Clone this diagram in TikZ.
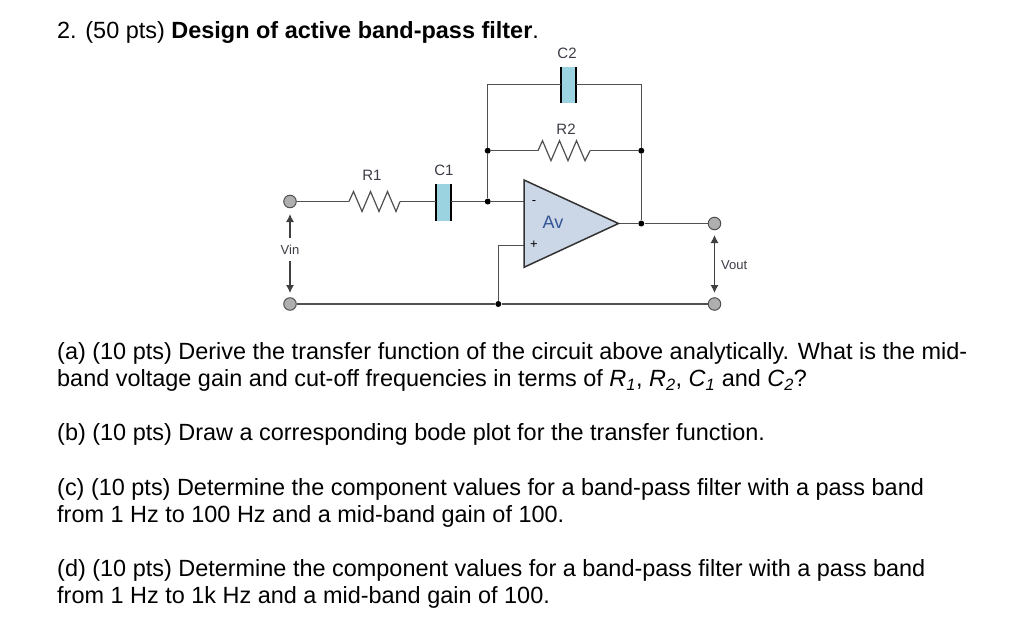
\documentclass[tikz,border=0pt]{standalone}
\usepackage{fontspec}
\setmainfont{Liberation Sans}
\usetikzlibrary{arrows.meta}
\definecolor{wire}{RGB}{80,80,80}
\definecolor{capfill}{RGB}{155,211,224}
\definecolor{ampfill}{RGB}{203,214,230}
\definecolor{lblblue}{RGB}{50,85,150}
\definecolor{lbl}{RGB}{60,60,70}
\definecolor{termfill}{RGB}{175,175,175}
\tikzset{
  wire/.style={draw=wire,line width=1.2pt},
  term/.style={circle,draw=wire,fill=termfill,line width=1pt,inner sep=0pt,minimum size=12.5pt},
  dot/.style={circle,fill=black,inner sep=0pt,minimum size=6pt},
  plate/.style={draw=black,line width=2.8pt},
  capbody/.style={fill=capfill,draw=none},
  lab/.style={font=\fontsize{15}{15}\selectfont,text=lbl,inner sep=0pt},
  smalllab/.style={font=\fontsize{13}{13}\selectfont,text=lbl,inner sep=0pt},
  para/.style={font=\fontsize{23.45}{27}\selectfont,anchor=north west,inner sep=0pt,align=left},
  volt/.style={draw=black!75,line width=1.1pt,-{Latex[length=8pt,width=8pt]}},
}
\begin{document}
\begin{tikzpicture}[x=1pt,y=-1pt]
\useasboundingbox (0,0) rectangle (1024,626);
\fill[white] (0,0) rectangle (1024,626);

% question text
\node[para] (title) at (57,21) {2. (50 pts) \textbf{Design of active band-pass filter}.};
\node[para] (pa) at (57,342.7) {(a) (10 pts) Derive the transfer function of the circuit above analytically. What is the mid-\\band voltage gain and cut-off frequencies in terms of \textit{R\textsubscript{1}}, \textit{R\textsubscript{2}}, \textit{C\textsubscript{1}} and \textit{C\textsubscript{2}}?};
\node[para] (pb) at (57,423) {(b) (10 pts) Draw a corresponding bode plot for the transfer function.};
\node[para] (pc) at (57,478) {(c) (10 pts) Determine the component values for a band-pass filter with a pass band\\from 1 Hz to 100 Hz and a mid-band gain of 100.};
\node[para] (pd) at (57,559) {(d) (10 pts) Determine the component values for a band-pass filter with a pass band\\from 1 Hz to 1k Hz and a mid-band gain of 100.};

% op amp
\coordinate (ampA) at (524,180);
\coordinate (ampB) at (524,267.3);
\coordinate (ampO) at (618.5,223.5);
\fill[ampfill] (ampA) -- (ampO) -- (ampB) -- cycle;

% junctions and terminals
\node[term] (vin1) at (290,201.5) {};
\node[term] (vin2) at (290,304) {};
\node[term] (vout1) at (714.5,223.5) {};
\node[term] (vout2) at (714.5,304) {};
\node[dot] (j1) at (487.7,201.5) {};
\node[dot] (j2) at (487.7,150.7) {};
\node[dot] (j3) at (641.3,150.7) {};
\node[dot] (j4) at (641.3,223.5) {};
\node[dot] (j5) at (498.3,304) {};
\coordinate (tl) at (487.7,84.7);
\coordinate (tr) at (641.3,84.7);
\coordinate (minus) at (524,201.5);
\coordinate (plus) at (524,245.7);
\coordinate (pluscorner) at (498.3,245.7);

% resistors and capacitors
\coordinate (r1a) at (349,201.5);
\coordinate (r1b) at (400,201.5);
\coordinate (r2a) at (538,150.7);
\coordinate (r2b) at (590,150.7);
\coordinate (c1a) at (436,201.5);
\coordinate (c1b) at (451,201.5);
\coordinate (c2a) at (561,84.7);
\coordinate (c2b) at (576,84.7);
\fill[capbody] (436,184) rectangle (451,220.5);
\fill[capbody] (561,67) rectangle (576,103);
\draw[plate] (436,184) -- (436,220.5);
\draw[plate] (451,184) -- (451,220.5);
\draw[plate] (561,67) -- (561,103);
\draw[plate] (576,67) -- (576,103);
\draw[wire,line join=miter] (r1a) -- ++(4.5,-10) -- ++(8.5,20) -- ++(8.5,-20) -- ++(8.5,20) -- ++(8.5,-20) -- ++(8.5,20) -- (r1b);
\draw[wire,line join=miter] (r2a) -- ++(4.5,-10) -- ++(8.5,20) -- ++(8.5,-20) -- ++(8.5,20) -- ++(8.5,-20) -- ++(8.5,20) -- (r2b);

% wires
\draw[wire] (vin1) -- (r1a);
\draw[wire] (r1b) -- (c1a);
\draw[wire] (c1b) -- (j1) -- (minus);
\draw[wire] (j1) -- (j2) -- (tl) -- (c2a);
\draw[wire] (c2b) -- (tr) -- (j3) -- (j4);
\draw[wire] (j2) -- (r2a);
\draw[wire] (r2b) -- (j3);
\draw[wire] (ampO) -- (j4) -- (vout1);
\draw[wire] (vin2) -- (j5) -- (vout2);
\draw[wire] (j5) -- (pluscorner) -- (plus);
\draw[draw=black!80,line width=1.5pt,line join=miter] (ampA) -- (ampO) -- (ampB) -- cycle;

% voltage arrows
\node[smalllab,minimum height=22pt] (vinl) at (290,249.5) {Vin};
\coordinate (vintop) at (290,214);
\coordinate (vinbot) at (290,293);
\draw[volt] (vinl) -- (vintop);
\draw[volt] (vinl) -- (vinbot);
\coordinate (voutmid) at (714.5,264);
\coordinate (vouttop) at (714.5,235);
\coordinate (voutbot) at (714.5,293);
\draw[volt] (voutmid) -- (vouttop);
\draw[volt] (voutmid) -- (voutbot);
\node[smalllab,anchor=west] (voutl) at (721,265) {Vout};

% labels
\node[lab] (lr1) at (372,175.5) {R1};
\node[lab] (lc1) at (444,170) {C1};
\node[lab] (lc2) at (567,53.5) {C2};
\node[lab] (lr2) at (566,129) {R2};
\node[font=\fontsize{18}{18}\selectfont,text=lblblue,inner sep=0pt] (lav) at (553,222) {Av};
\node[smalllab,text=black] (lm) at (534,202.5) {-};
\node[smalllab,text=black] (lp) at (534,244.5) {+};
\end{tikzpicture}
\end{document}
